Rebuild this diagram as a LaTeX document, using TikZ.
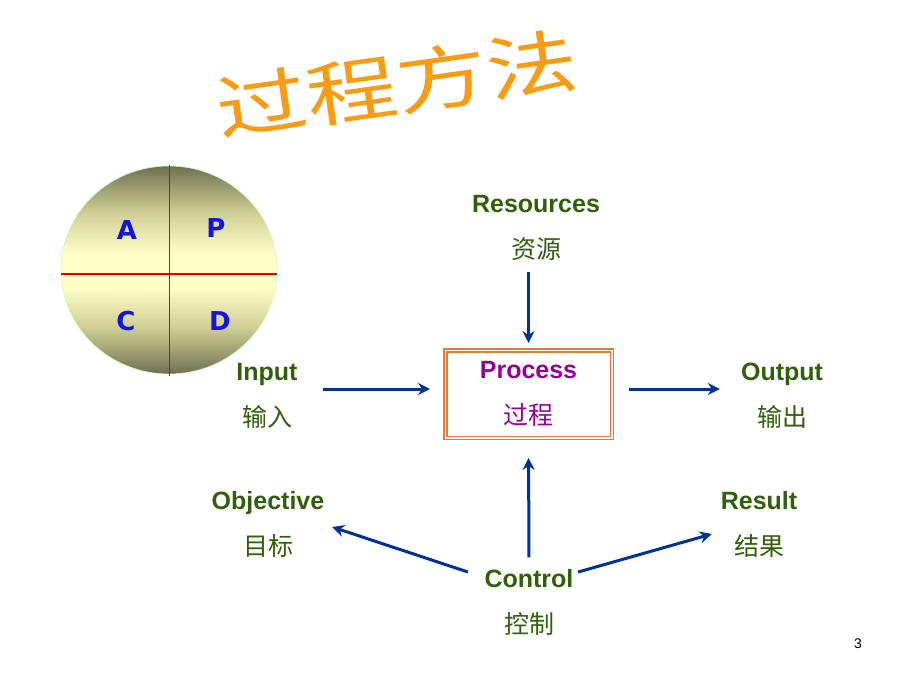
\documentclass[tikz,border=0pt]{standalone}
\usepackage{fontspec}
\setmainfont{Liberation Sans}
\newfontfamily\cjk{Noto Sans CJK SC}
\newfontfamily\pdcafont{DejaVu Sans}
\usetikzlibrary{arrows.meta}
\definecolor{labelgreen}{RGB}{50,95,10}
\definecolor{procpurple}{RGB}{150,0,150}
\definecolor{flowblue}{RGB}{0,50,150}
\definecolor{boxorange}{RGB}{235,120,50}
\definecolor{titleorange}{RGB}{250,155,20}
\definecolor{wheeldark}{RGB}{112,112,82}
\definecolor{wheelmid}{RGB}{205,205,148}
\definecolor{wheellight}{RGB}{255,255,200}
\definecolor{pdcablue}{RGB}{20,20,225}
\definecolor{crossred}{RGB}{235,0,0}
\pgfdeclareverticalshading{wheel}{100bp}{color(0bp)=(wheeldark); color(25bp)=(wheeldark);
    color(36bp)=(wheelmid); color(46bp)=(wheellight); color(54bp)=(wheellight);
    color(64bp)=(wheelmid); color(75bp)=(wheeldark); color(100bp)=(wheeldark)}

\begin{document}
\begin{tikzpicture}[x=1pt,y=-1pt,
    lbl/.style={align=center,text=labelgreen,font=\fontsize{25}{46}\selectfont\bfseries},
    flow/.style={draw=flowblue,line width=3pt,-{Stealth[length=12pt,width=12pt,inset=4pt]}},
    pdca/.style={text=pdcablue,font=\pdcafont\bfseries\fontsize{26}{30}\selectfont}]
    \useasboundingbox (0,0) rectangle (920,690);
    % Title
    \node[rotate=8,xscale=1.3,text=titleorange,font=\cjk\fontsize{70}{80}\selectfont]
        (title) at (397,84) {过程方法};
    % PDCA wheel
    \shade[shading=wheel] (169,270) ellipse (108 and 104);
    \draw[green!25!white, line width=0.6pt] (169,270) ellipse (108 and 104);
    \fill[crossred] (168.7,165) rectangle (170.3,376);
    \fill[crossred] (61,273.2) rectangle (277,274.8);
    \node[pdca] (act) at (127,230) {A};
    \node[pdca] (plan) at (216,228) {P};
    \node[pdca] (check) at (126,321) {C};
    \node[pdca] (do) at (220,321) {D};
    % Labels
    \node[lbl] (resources) at (536,227.5) {Resources\\{\cjk\mdseries 资源}};
    \node[lbl] (input) at (267,395.5) {Input\\{\cjk\mdseries 输入}};
    \node[lbl] (output) at (782,395.5) {Output\\{\cjk\mdseries 输出}};
    \node[lbl] (objective) at (268,524.5) {Objective\\{\cjk\mdseries 目标}};
    \node[lbl] (result) at (759,524.5) {Result\\{\cjk\mdseries 结果}};
    \node[lbl] (control) at (529,602.5) {Control\\{\cjk\mdseries 控制}};
    % Process box
    \node[lbl, text=procpurple, draw=boxorange, double=white, double distance=1.5pt,
        line width=1.5pt, minimum width=166.5, minimum height=87.5]
        (process) at (528.5,394) {Process\\{\cjk\mdseries 过程}};
    % Flows
    \draw[flow, shorten <=22, shorten >=14.5]
        ([shift={(0,-6.5)}]input.east) -- ([shift={(0,-5)}]process.west);
    \draw[flow, shorten <=16.5, shorten >=17.7]
        ([shift={(0,-5)}]process.east) -- ([shift={(0,-6.5)}]output.west);
    \draw[flow, shorten <=8, shorten >=6.5]
        (process.north |- resources.south) -- (process.north);
    \draw[flow, shorten <=8.5, shorten >=19.5] (control.north) -- (process.south);
    \draw[flow] ([shift={(-13.2,-30.5)}]control.west) -- ([shift={(4.4,2.5)}]objective.east);
    \draw[flow] ([shift={(1.2,-30.5)}]control.east) -- ([shift={(-5.5,9.5)}]result.west);
    % Page number
    \node[font=\fontsize{14}{16}\selectfont] (pagenum) at (858,644) {3};
\end{tikzpicture}
\end{document}
